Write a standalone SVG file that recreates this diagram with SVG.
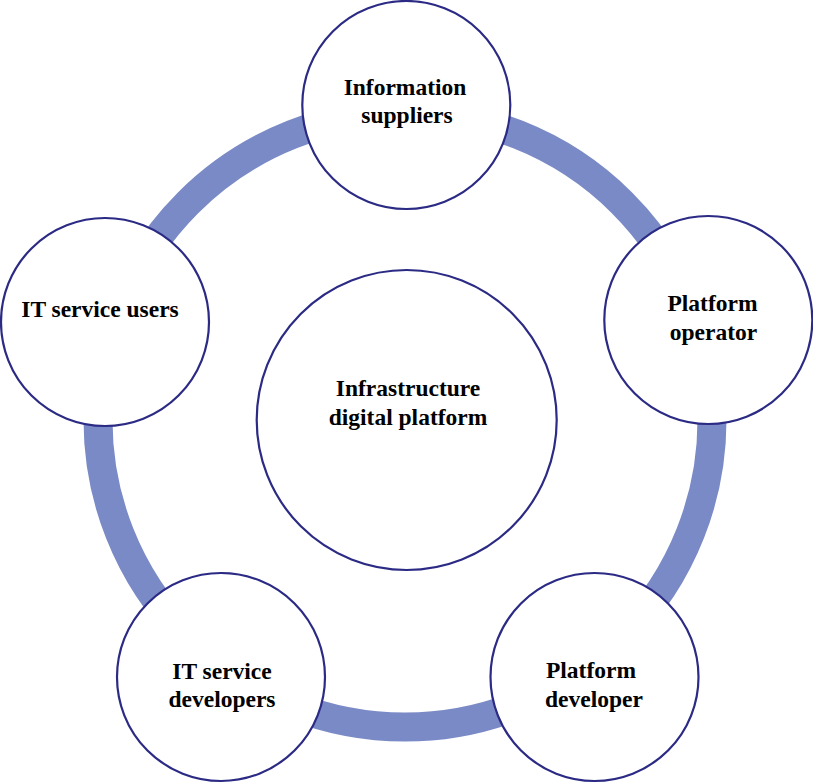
<svg xmlns="http://www.w3.org/2000/svg" width="813" height="783" viewBox="0 0 813 783">
<style>
.node{fill:#ffffff;stroke:#2b2a84;stroke-width:2.2}
.ring{fill:none;stroke:#7a8ac6;stroke-width:29}
.lbl{font-family:"Liberation Serif","Times New Roman",serif;font-weight:bold;font-size:23.5px;fill:#000;text-anchor:middle}
</style>
<rect width="813" height="783" fill="#ffffff"/>
<g id="connectors">
<circle class="ring" cx="405" cy="420" r="307"/>
</g>
<g id="center">
<circle class="node" cx="406.7" cy="420" r="150"/>
<text class="lbl" x="408" y="396">Infrastructure</text>
<text class="lbl" x="408" y="424.5">digital platform</text>
</g>
<g id="information-suppliers">
<circle class="node" cx="406.3" cy="105" r="104"/>
<text class="lbl" x="405" y="95">Information</text>
<text class="lbl" x="407" y="123">suppliers</text>
</g>
<g id="platform-operator">
<circle class="node" cx="708.3" cy="320" r="104"/>
<text class="lbl" x="712.5" y="311">Platform</text>
<text class="lbl" x="713.5" y="340">operator</text>
</g>
<g id="platform-developer">
<circle class="node" cx="594.5" cy="677" r="104"/>
<text class="lbl" x="591" y="677.5">Platform</text>
<text class="lbl" x="594" y="706.5">developer</text>
</g>
<g id="it-service-developers">
<circle class="node" cx="221" cy="677" r="104"/>
<text class="lbl" x="222" y="678.5">IT service</text>
<text class="lbl" x="222" y="706.5">developers</text>
</g>
<g id="it-service-users">
<circle class="node" cx="105" cy="322" r="104"/>
<text class="lbl" x="100" y="317">IT service users</text>
</g>
</svg>
